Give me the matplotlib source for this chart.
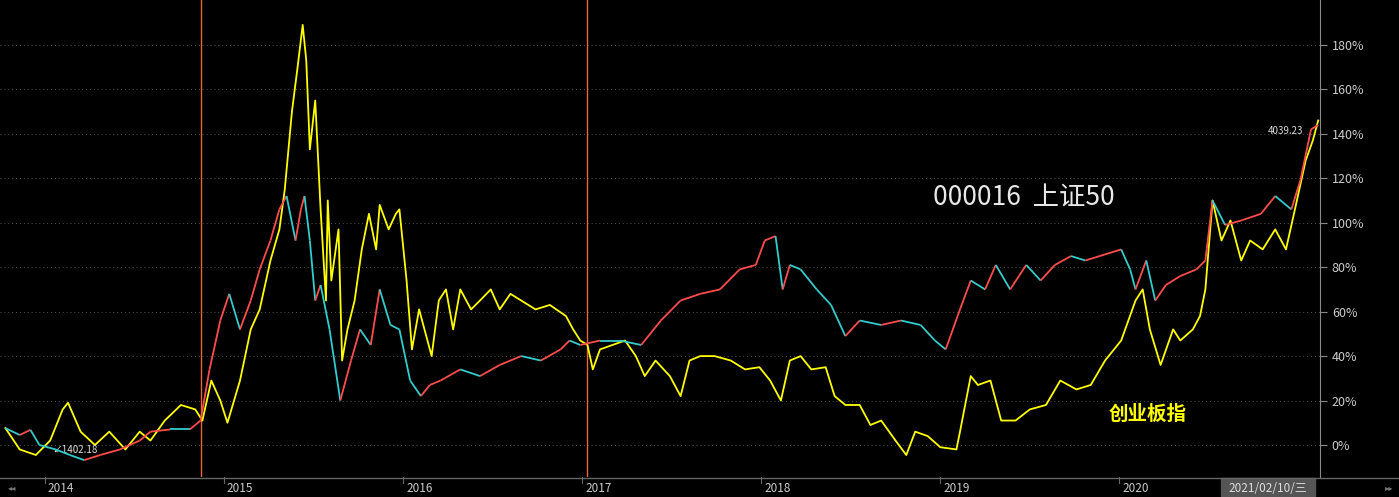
import matplotlib
matplotlib.use("Agg")
import matplotlib.pyplot as plt
import numpy as np
from matplotlib.collections import LineCollection

plt.rcParams['font.family'] = ['Noto Sans CJK SC', 'DejaVu Sans']

cyb_t = [2013.78,2013.86,2013.95,2014.03,2014.10,2014.13,2014.20,2014.28,2014.36,2014.45,2014.53,2014.59,2014.67,2014.76,2014.84,2014.88,2014.93,2014.98,2015.02,2015.09,2015.15,2015.20,2015.26,2015.31,2015.34,2015.38,2015.41,2015.44,2015.46,2015.48,2015.51,2015.54,2015.57,2015.58,2015.60,2015.64,2015.66,2015.69,2015.73,2015.77,2015.81,2015.85,2015.87,2015.92,2015.96,2015.98,2016.02,2016.05,2016.09,2016.12,2016.16,2016.20,2016.24,2016.28,2016.32,2016.38,2016.43,2016.49,2016.54,2016.60,2016.66,2016.74,2016.82,2016.91,2016.95,2016.99,2017.03,2017.06,2017.10,2017.17,2017.24,2017.30,2017.35,2017.41,2017.49,2017.55,2017.60,2017.66,2017.74,2017.83,2017.91,2017.99,2018.05,2018.11,2018.16,2018.22,2018.28,2018.36,2018.41,2018.47,2018.55,2018.61,2018.67,2018.75,2018.81,2018.86,2018.93,2019.00,2019.09,2019.11,2019.17,2019.21,2019.28,2019.34,2019.42,2019.50,2019.59,2019.67,2019.76,2019.84,2019.92,2020.01,2020.09,2020.13,2020.17,2020.23,2020.30,2020.34,2020.41,2020.45,2020.48,2020.52,2020.57,2020.62,2020.68,2020.73,2020.80,2020.87,2020.93,2020.98,2021.04,2021.08,2021.11]
cyb_v = [7.6,-2,-4.5,2,16,19,6,0,6,-2,6,2,11,18,16,11,29,20,10,29,52,61,83,97,115,150,169,189,173,133,155,106,65,110,74,97,38,52,65,88,104,88,108,97,104,106,74,43,61,52,40,65,70,52,70,61,65,70,61,68,65,61,63,58,52,47,45,34,43,45,47,40,31,38,31,22,38,40,40,38,34,35,29,20,38,40,34,35,22,18,18,9,11,2,-4.5,6,4,-1,-2,6,31,27,29,11,11,16,18,29,25,27,38,47,65,70,52,36,52,47,52,58,70,110,92,101,83,92,88,97,88,106,128,137,146]

sz_t = [2013.78,2013.86,2013.92,2013.97,2014.06,2014.14,2014.22,2014.31,2014.42,2014.53,2014.59,2014.70,2014.81,2014.87,2014.92,2014.98,2015.03,2015.09,2015.15,2015.20,2015.26,2015.31,2015.35,2015.40,2015.43,2015.45,2015.48,2015.51,2015.54,2015.59,2015.65,2015.71,2015.76,2015.82,2015.87,2015.93,2015.98,2016.04,2016.10,2016.15,2016.21,2016.32,2016.43,2016.54,2016.66,2016.77,2016.88,2016.93,2016.99,2017.10,2017.21,2017.33,2017.44,2017.55,2017.66,2017.77,2017.88,2017.97,2018.02,2018.08,2018.12,2018.16,2018.22,2018.31,2018.39,2018.47,2018.55,2018.67,2018.78,2018.89,2018.97,2019.03,2019.11,2019.17,2019.25,2019.31,2019.39,2019.48,2019.56,2019.64,2019.73,2019.81,2019.89,2020.01,2020.06,2020.09,2020.15,2020.20,2020.26,2020.34,2020.43,2020.48,2020.52,2020.59,2020.68,2020.79,2020.87,2020.96,2021.01,2021.07,2021.11]
sz_v = [7.6,4.5,6.8,0,-2,-4.5,-6.8,-4.5,-2,2,6,7,7,11,34,56,68,52,65,79,92,106,112,92,106,112,92,65,72,52,20,38,52,45,70,54,52,29,22,27,29,34,31,36,40,38,43,47,45,47,47,45,56,65,68,70,79,81,92,94,70,81,79,70,63,49,56,54,56,54,47,43,61,74,70,81,70,81,74,81,85,83,85,88,79,70,83,65,72,76,79,83,110,99,101,104,112,106,119,142,144]

years = ['2014','2015','2016','2017','2018','2019','2020']
vlines = [2014.87, 2017.03]

fig = plt.figure(figsize=(13.99, 4.97), dpi=100, facecolor='black')
ax = fig.add_axes([0, 20/497, 1320/1399, 477/497])
ax.set_facecolor('black')
ax.set_xlim(2013.75, 2021.12)
ax.set_ylim(-14.4, 200.2)

for y in range(0, 200, 20):
    ax.axhline(y, color='#555555', lw=0.7, ls=(0, (1, 3)), zorder=0)
for v in vlines:
    ax.axvline(v, color='#e8663a', lw=1, zorder=1)

ax.plot(cyb_t, cyb_v, color='#ffff00', lw=1.3, zorder=3)
pts = np.column_stack([sz_t, sz_v])
segs = np.stack([pts[:-1], pts[1:]], axis=1)
cols = ['#ff4d4d' if b > a else '#33cccc' for a, b in zip(sz_v[:-1], sz_v[1:])]
ax.add_collection(LineCollection(segs, colors=cols, lw=1.3, zorder=4))

ax.yaxis.tick_right()
ax.set_yticks(range(0, 200, 20))
ax.set_yticklabels([f'{y}%' for y in range(0, 200, 20)], color='#cccccc', fontsize=9)
ax.tick_params(axis='y', colors='#888888', length=5, labelcolor='#cccccc')
ax.set_xticks([])
for s in ['top', 'left', 'bottom']:
    ax.spines[s].set_visible(False)
ax.spines['right'].set_color('#888888')

ax.text(0.707, 0.57, '000016  上证50', transform=ax.transAxes, color='#e8e8e8', fontsize=19)
ax.text(0.84, 0.12, '创业板指', transform=ax.transAxes, color='#ffff00', fontsize=14, fontweight='bold')
ax.text(2014.04, -3.5, '↙1402.18', color='#dddddd', fontsize=7)
ax.text(2020.83, 140, '4039.23', color='#dddddd', fontsize=7)

bx = fig.add_axes([0, 0, 1, 20/497])
bx.set_facecolor('#111111')
bx.set_xlim(0, 1399); bx.set_ylim(0, 20)
bx.axis('off')
bx.axhline(19.5, color='#666666', lw=1)
for i, yr in enumerate(years):
    px = (2014 + i - 2013.75) / (2021.12 - 2013.75) * 1320
    bx.plot([px, px], [14, 20], color='#666666', lw=0.8)
    bx.text(px + 3, 9, yr, color='#cccccc', fontsize=8.5, va='center')
bx.add_patch(plt.Rectangle((1221, 1), 94, 18, color='#555555'))
bx.text(1268, 9, '2021/02/10/三', color='#dddddd', fontsize=8.5, va='center', ha='center')
bx.text(8, 9, '◂◂', color='#777777', fontsize=6, va='center')
bx.text(1385, 9, '▸▸', color='#777777', fontsize=6, va='center')

fig.savefig('out.png', dpi=100, facecolor='black')
